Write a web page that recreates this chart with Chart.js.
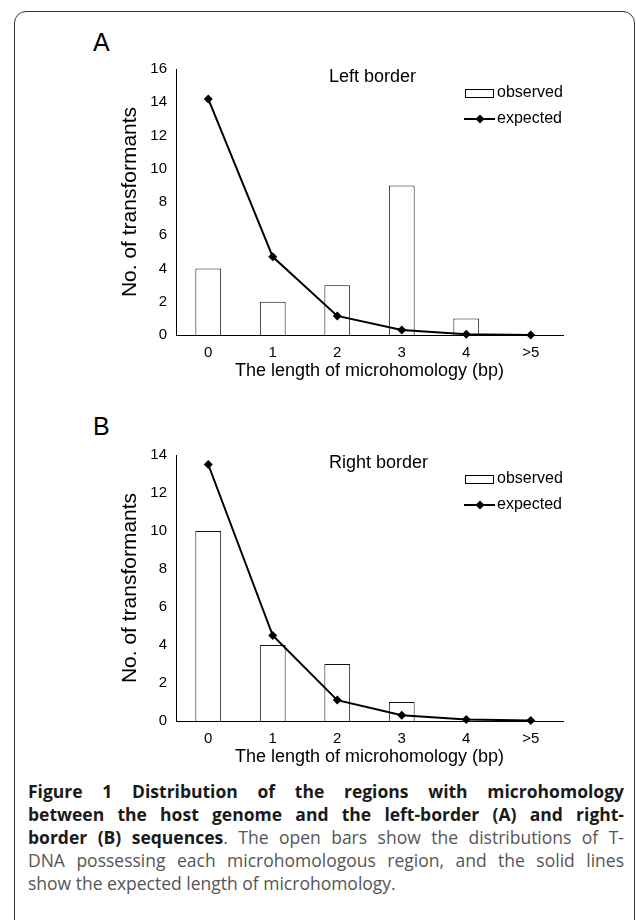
<!DOCTYPE html>
<html>
<head>
<meta charset="utf-8">
<script src="https://cdn.jsdelivr.net/npm/chart.js@4.4.1/dist/chart.umd.min.js"></script>
<style>
  html, body { margin: 0; padding: 0; background: #fff; }
  body { width: 636px; height: 920px; position: relative; overflow: hidden; font-family: "Liberation Sans", Arial, sans-serif; }
  .frame { position: absolute; left: 14px; top: 11px; width: 621px; height: 980px; border: 1.5px solid #333; border-radius: 12px; box-sizing: border-box; }
  .panel { position: absolute; left: 93px; font-size: 25px; line-height: 25px; color: #000; }
  canvas { position: absolute; left: 112px; }
  .caption { position: absolute; left: 28px; width: 596px; top: 780px; font-family: "Open Sans", sans-serif; font-size: 17.5px; line-height: 23px; color: #555; }
  .caption div { text-align: justify; text-align-last: justify; white-space: nowrap; }
  .caption div.last { text-align-last: left; }
  .caption b { color: #1a1a1a; }
</style>
</head>
<body>
<div class="frame"></div>
<div class="panel" style="top:30px">A</div>
<canvas id="chartA" width="480" height="330" style="top:56px"></canvas>
<div class="panel" style="top:414px">B</div>
<canvas id="chartB" width="480" height="330" style="top:442px"></canvas>
<div class="caption">
  <div><b>Figure 1 Distribution of the regions with microhomology</b></div>
  <div><b>between the host genome and the left-border (A) and right-</b></div>
  <div><b>border (B) sequences</b>. The open bars show the distributions of T-</div>
  <div>DNA possessing each microhomologous region, and the solid lines</div>
  <div class="last">show the expected length of microhomology.</div>
</div>
<script>
// categories on the x axis
const categories = ['0', '1', '2', '3', '4', '>5'];

// panel A, left border
const observedLeft = [4, 2, 3, 9, 1, 0];
const expectedLeft = [14.2, 4.7, 1.15, 0.3, 0.05, 0.0];
const yMaxLeft = 16;

// panel B, right border
const observedRight = [10, 4, 3, 1, 0, 0];
const expectedRight = [13.5, 4.5, 1.1, 0.3, 0.08, 0.02];
const yMaxRight = 14;

const yStep = 2;
const FONT = '"Liberation Sans", Arial, sans-serif';

// draws the "Left border" text and the little legend inside the plot
const innerText = {
  id: 'innerText',
  afterDraw(chart, args, opts) {
    const ctx = chart.ctx;
    const a = chart.chartArea;
    const ds = chart.data.datasets;
    ctx.save();
    ctx.fillStyle = '#000';
    ctx.textBaseline = 'middle';
    ctx.textAlign = 'left';
    ctx.font = '18px ' + FONT;
    ctx.fillText(opts.title, a.left + 153, a.top + 8);

    ctx.font = '16px ' + FONT;
    const bx = a.left + 289;
    const by = a.top + 24;
    ctx.fillStyle = '#fff';
    ctx.fillRect(bx, by - 4, 29, 8);
    ctx.strokeStyle = '#000';
    ctx.lineWidth = 1;
    ctx.strokeRect(bx + 0.5, by - 3.5, 28, 8);
    ctx.fillStyle = '#000';
    ctx.fillText(ds[1].label, bx + 32, by);

    const ly = a.top + 50;
    ctx.lineWidth = 2;
    ctx.beginPath();
    ctx.moveTo(bx - 1, ly);
    ctx.lineTo(bx + 30, ly);
    ctx.stroke();
    const cx = bx + 15, r = 4.5;
    ctx.beginPath();
    ctx.moveTo(cx, ly - r);
    ctx.lineTo(cx + r, ly);
    ctx.lineTo(cx, ly + r);
    ctx.lineTo(cx - r, ly);
    ctx.closePath();
    ctx.fill();
    ctx.fillText(ds[0].label, bx + 32, ly);
    ctx.restore();
  }
};

function makeChart(id, observed, expected, yMax, title) {
  return new Chart(document.getElementById(id), {
    type: 'bar',
    data: {
      labels: categories,
      datasets: [
        {
          type: 'line',
          label: 'expected',
          data: expected,
          borderColor: '#000',
          backgroundColor: '#000',
          borderWidth: 2,
          pointStyle: 'rectRot',
          pointRadius: 4.5,
          pointBackgroundColor: '#000',
          pointBorderWidth: 0,
          tension: 0,
          clip: false,
          order: 0
        },
        {
          type: 'bar',
          label: 'observed',
          data: observed,
          backgroundColor: '#fff',
          borderColor: '#111',
          borderWidth: 1,
          barPercentage: 0.4,
          categoryPercentage: 1,
          order: 1
        }
      ]
    },
    options: {
      responsive: false,
      animation: false,
      layout: { padding: { top: 13, right: 29, left: 0, bottom: 0 } },
      plugins: {
        legend: { display: false },
        tooltip: { enabled: false },
        innerText: { title: title }
      },
      scales: {
        x: {
          grid: { display: false, drawTicks: false },
          border: { color: '#000', width: 1 },
          ticks: { color: '#000', font: { family: FONT, size: 15 }, padding: 9 },
          title: {
            display: true,
            text: 'The length of microhomology (bp)',
            color: '#000',
            font: { family: FONT, size: 18 },
            padding: { top: 0, bottom: 4 }
          },
          afterFit(s) { s.height = 51; }
        },
        y: {
          min: 0,
          max: yMax,
          grid: { display: false, drawTicks: false },
          border: { color: '#000', width: 1 },
          ticks: { stepSize: yStep, color: '#000', font: { family: FONT, size: 15 }, padding: 9 },
          title: {
            display: true,
            text: 'No. of transformants',
            color: '#000',
            font: { family: FONT, size: 21 },
            padding: { top: 6, bottom: 0 }
          },
          // fixed axis width; drop the label padding so layout.padding sets the top
          afterFit(s) { s.width = 64; s.paddingTop = 0; s.paddingBottom = 0; }
        }
      }
    },
    plugins: [innerText]
  });
}

makeChart('chartA', observedLeft, expectedLeft, yMaxLeft, 'Left border');
makeChart('chartB', observedRight, expectedRight, yMaxRight, 'Right border');
</script>
</body>
</html>
